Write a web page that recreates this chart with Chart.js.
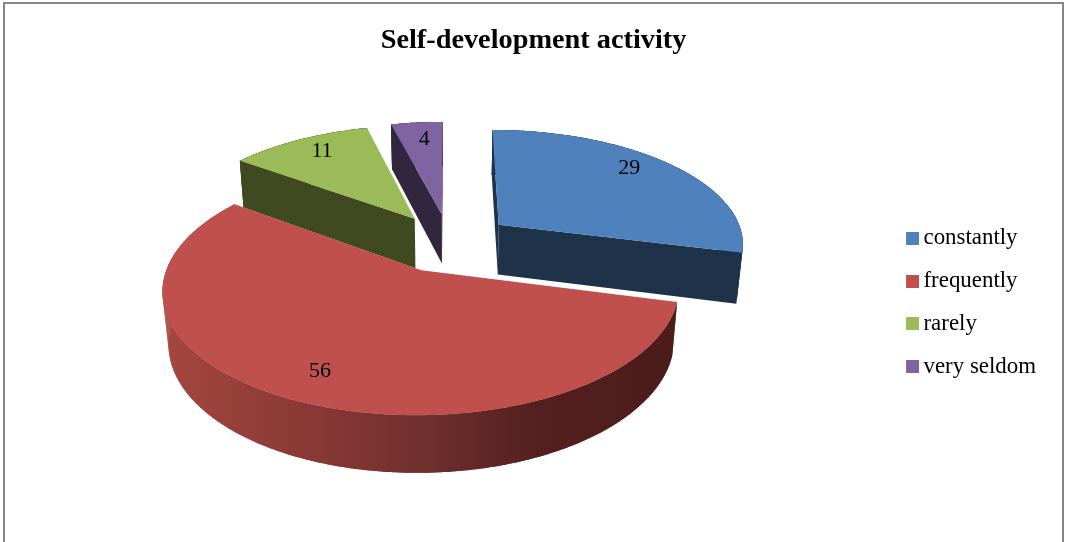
<!DOCTYPE html>
<html>
<head>
<meta charset="utf-8">
<style>html,body{margin:0;padding:0;background:#fff}#w{width:1066px;height:542px;position:relative}</style>
<script src="https://cdn.jsdelivr.net/npm/chart.js@4"></script>
</head>
<body>
<div id="w"><canvas id="c" width="1066" height="542"></canvas></div>
<script>
const chartTitle = "Self-development activity";
const categories = ["constantly", "frequently", "rarely", "very seldom"];
const seriesValues = [29, 56, 11, 4];

const topColors = ["#4f81bd", "#c0504d", "#9bbb59", "#8064a2"];
const wallColors = ["#1e3249", null, "#3f4a21", "#32263f"];
const labelNudge = [[-8, -7], [0, 1], [2, -3], [3, 0]];
const FONT = "'Liberation Serif', serif";
const view = {cx: 449.5, cy: 242.5, A: 246, B: 114, k: 0.15, D: 51.5, m: 0.02, labelR: 0.8};

function project(u, v, z) {
  const w = 1 - view.k * v + view.m * z;
  return [view.cx + view.A * u / w, view.cy + (view.B * v + view.D * z) / w];
}
function sliceShape(el) {
  const a0 = el.startAngle + Math.PI / 2, a1 = el.endAngle + Math.PI / 2, mid = (a0 + a1) / 2;
  const e = el.options.offset / el.outerRadius;
  return {a0, a1, mid, ou: e * Math.sin(mid), ov: -e * Math.cos(mid)};
}
function arcPts(s, z, rev) {
  const n = Math.max(2, Math.ceil((s.a1 - s.a0) / 0.01)), pts = [];
  for (let i = 0; i <= n; i++) {
    const t = s.a0 + (s.a1 - s.a0) * (rev ? n - i : i) / n;
    pts.push(project(s.ou + Math.sin(t), s.ov - Math.cos(t), z));
  }
  return pts;
}
function fillPoly(ctx, pts, fill) {
  ctx.beginPath();
  pts.forEach((p, i) => i ? ctx.lineTo(p[0], p[1]) : ctx.moveTo(p[0], p[1]));
  ctx.closePath();
  ctx.fillStyle = fill;
  ctx.fill();
}
function outerWall(ctx, s, fill) {
  const top = arcPts(s, 0, false), bottom = arcPts(s, 1, false);
  fillPoly(ctx, top.concat(bottom.slice().reverse()), fill);
  for (let i = 0; i + 1 < top.length; i++) {
    fillPoly(ctx, [top[i], top[i + 1], bottom[i + 1], bottom[i]], fill);
  }
}
function radialWall(ctx, s, angle, sign, fill) {
  const nx = Math.sin(angle + sign * Math.PI / 2), ny = -Math.cos(angle + sign * Math.PI / 2);
  if (-s.ou * nx + (1 / view.k - s.ov) * ny <= 0) return;
  const tu = s.ou + Math.sin(angle), tv = s.ov - Math.cos(angle);
  fillPoly(ctx, [project(s.ou, s.ov, 0), project(tu, tv, 0), project(tu, tv, 1), project(s.ou, s.ov, 1)], fill);
}
const pie3d = {
  id: "pie3d",
  beforeDraw(chart) {
    const ctx = chart.ctx;
    ctx.save();
    ctx.fillStyle = "#fff";
    ctx.fillRect(0, 0, chart.width, chart.height);
    ctx.strokeStyle = "#868686";
    ctx.lineWidth = 2;
    ctx.beginPath();
    ctx.moveTo(4, chart.height + 2);
    ctx.lineTo(4, 3);
    ctx.lineTo(1063, 3);
    ctx.lineTo(1063, chart.height + 2);
    ctx.stroke();
    ctx.restore();
  },
  beforeDatasetsDraw(chart) {
    const ctx = chart.ctx, arcs = chart.getDatasetMeta(0).data;
    const shapes = arcs.map(sliceShape);
    const order = arcs.map((_, i) => i).sort((a, b) => shapes[a].ov - shapes[b].ov);
    ctx.save();
    order.forEach(i => {
      const s = shapes[i];
      let wall = wallColors[i];
      if (!wall) {
        wall = ctx.createLinearGradient(166, 0, 678, 0);
        wall.addColorStop(0, "#a4473f");
        wall.addColorStop(0.28, "#8a3835");
        wall.addColorStop(0.5, "#70302e");
        wall.addColorStop(0.72, "#54201f");
        wall.addColorStop(1, "#4c1c1a");
      }
      outerWall(ctx, s, wall);
      radialWall(ctx, s, s.a0, -1, wall);
      radialWall(ctx, s, s.a1, 1, wall);
      fillPoly(ctx, [project(s.ou, s.ov, 0)].concat(arcPts(s, 0, false)), topColors[i]);
    });
    ctx.fillStyle = "#000";
    ctx.font = "22px " + FONT;
    ctx.textAlign = "center";
    ctx.textBaseline = "middle";
    arcs.forEach((el, i) => {
      const s = shapes[i];
      const p = project(s.ou + view.labelR * Math.sin(s.mid), s.ov - view.labelR * Math.cos(s.mid), 0);
      ctx.fillText(String(seriesValues[i]), p[0] + labelNudge[i][0], p[1] + labelNudge[i][1]);
    });
    ctx.restore();
    return false;
  }
};
const keys = topColors.map(col => {
  const c = document.createElement("canvas");
  c.width = 15; c.height = 13;
  const g = c.getContext("2d");
  g.fillStyle = col;
  g.fillRect(2, 0, 13, 13);
  return c;
});
new Chart(document.getElementById("c"), {
  type: "pie",
  plugins: [pie3d],
  data: {
    labels: categories,
    datasets: [{data: seriesValues, backgroundColor: topColors, borderWidth: 0, offset: 55}]
  },
  options: {
    responsive: false,
    animation: false,
    layout: {padding: {top: 0, right: 20, bottom: 0, left: 21}},
    plugins: {
      tooltip: {enabled: false},
      title: {
        display: true, text: chartTitle, color: "#000",
        font: {family: FONT, size: 28.3, weight: "bold"},
        padding: {top: 24, bottom: 5}
      },
      legend: {
        position: "right",
        fullSize: false,
        labels: {
          color: "#000",
          font: {family: FONT, size: 22.9},
          padding: 19.8,
          usePointStyle: true,
          pointStyleWidth: 1,
          generateLabels: () => categories.map((text, i) => ({
            text, fillStyle: topColors[i], strokeStyle: topColors[i], lineWidth: 0,
            hidden: false, index: i, pointStyle: keys[i]
          }))
        }
      }
    }
  }
});
</script>
</body>
</html>
